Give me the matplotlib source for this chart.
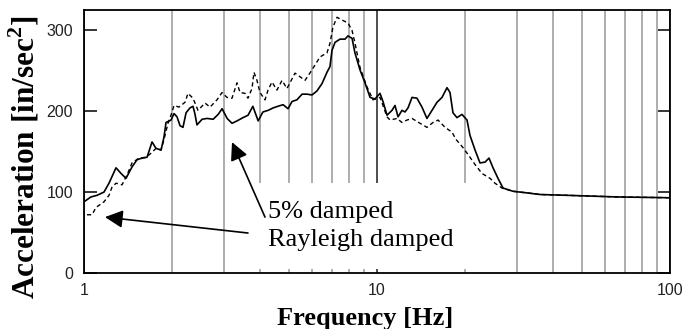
import numpy as np
import matplotlib
matplotlib.use('Agg')
import matplotlib.pyplot as plt
from matplotlib.ticker import LogLocator, NullFormatter, FixedLocator

# 5% damped (solid)
freq_5pct = [1.00, 1.056, 1.108, 1.170, 1.217, 1.286, 1.338, 1.391, 1.458, 1.517,
             1.578, 1.641, 1.707, 1.761, 1.832, 1.875, 1.905, 1.981, 2.029, 2.077,
             2.127, 2.177, 2.23, 2.30, 2.355, 2.39, 2.43, 2.53, 2.63, 2.76,
             2.87, 2.96, 3.08, 3.20, 3.33, 3.49, 3.63, 3.77, 3.93, 4.08,
             4.25, 4.42, 4.59, 4.78, 4.97, 5.13, 5.33, 5.55, 5.77, 6.00,
             6.24, 6.49, 6.75, 6.91, 7.02, 7.19, 7.48, 7.78, 7.96, 8.22,
             8.41, 8.75, 9.10, 9.47, 9.84, 10.24, 10.48, 10.82, 11.25, 11.52,
             11.80, 12.17, 12.46, 12.76, 13.17, 13.69, 14.24, 14.81, 15.41, 16.03,
             16.67, 17.34, 17.75, 18.17, 18.75, 19.50, 20.29, 20.77, 21.61, 22.47,
             23.37, 24.12, 24.89, 25.88, 26.92, 29.12, 32.51, 36.00, 44.51, 65.93,
             100.0]
acc_5pct = [88, 94, 96, 100, 111, 130, 123, 117, 131, 140,
            142, 143, 162, 154, 152, 168, 186, 189, 197, 193,
            182, 180, 198, 204, 206, 197, 183, 190, 191, 190,
            196, 203, 191, 185, 188, 192, 195, 206, 188, 199,
            201, 204, 206, 208, 203, 212, 214, 221, 221, 220,
            225, 234, 248, 255, 275, 285, 289, 289, 293, 290,
            272, 251, 235, 217, 215, 222, 212, 195, 201, 207,
            193, 201, 199, 204, 217, 216, 205, 191, 201, 211,
            217, 229, 223, 198, 192, 196, 189, 170, 152, 136,
            137, 142, 130, 117, 105, 101, 99, 97, 96, 94,
            93]

# Rayleigh damped (dashed)
freq_ray = [1.024, 1.065, 1.099, 1.170, 1.217, 1.246, 1.286, 1.348, 1.402, 1.458,
            1.541, 1.628, 1.693, 1.761, 1.832, 1.875, 1.935, 1.981, 2.029, 2.110,
            2.212, 2.264, 2.355, 2.449, 2.588, 2.692, 2.844, 2.958, 3.076, 3.200,
            3.328, 3.408, 3.544, 3.628, 3.744, 3.803, 3.894, 3.987, 4.147, 4.246,
            4.381, 4.556, 4.739, 4.929, 5.250, 5.679, 5.999, 6.390, 6.751, 6.912,
            7.076, 7.302, 7.655, 7.962, 8.215, 8.412, 8.750, 9.245, 9.690, 10.24,
            10.48, 10.82, 11.08, 11.70, 12.17, 12.66, 13.17, 14.02, 14.81, 15.53,
            16.16, 17.07, 18.03, 18.61, 19.66, 20.77, 21.61, 22.83, 24.31, 25.27,
            26.71, 29.12, 32.51, 36.00, 44.51, 65.93, 100.0]
acc_ray = [72, 72, 81, 88, 96, 106, 111, 109, 121, 136,
           142, 143, 148, 154, 152, 165, 185, 195, 207, 205,
           211, 222, 216, 201, 210, 205, 214, 223, 217, 216,
           235, 223, 222, 216, 228, 248, 238, 223, 214, 226,
           236, 226, 238, 228, 247, 238, 251, 267, 272, 284,
           304, 316, 312, 309, 300, 284, 254, 230, 214, 217,
           207, 193, 189, 191, 186, 189, 191, 185, 180, 186,
           189, 180, 174, 165, 155, 143, 134, 123, 117, 111,
           105, 101, 99, 97, 96, 94, 93]

yticks = [0, 100, 200, 300]
serif = ['Liberation Serif', 'DejaVu Serif']
sans = ['Liberation Sans', 'DejaVu Sans']

fig = plt.figure(figsize=(6.88, 3.29), dpi=100)
ax = fig.add_axes([0.1221, 0.1702, 0.8517, 0.7994])

ax.plot(freq_5pct, acc_5pct, color='black', linewidth=1.2, zorder=3)
ax.plot(freq_ray, acc_ray, color='black', linewidth=1.0, linestyle=(0, (3, 2.2)), zorder=3)

ax.set_xscale('log')
ax.set_xlim(1, 100)
ax.set_ylim(0, 325)

ax.xaxis.set_major_locator(FixedLocator([1, 10, 100]))
ax.xaxis.set_major_formatter(matplotlib.ticker.FixedFormatter(['1', '10', '100']))
ax.xaxis.set_minor_locator(LogLocator(base=10, subs=np.arange(2, 10)))
ax.xaxis.set_minor_formatter(NullFormatter())
ax.grid(which='minor', axis='x', color='#a0a0a0', linewidth=1.2, zorder=1)
ax.grid(which='major', axis='x', color='#303030', linewidth=1.2, zorder=1)
ax.tick_params(axis='x', which='both', length=0, pad=7)

ax.set_yticks(yticks)
ax.tick_params(axis='y', direction='in', length=9, width=1.1, right=True, pad=8)
for lab in ax.get_xticklabels() + ax.get_yticklabels():
    lab.set_family(sans)
    lab.set_fontsize(11.5)
    lab.set_color('#222222')

for sp in ax.spines.values():
    sp.set_linewidth(1.3)
    sp.set_zorder(4)

ax.set_xlabel('Frequency [Hz]', family=serif, fontweight='bold', fontsize=19)
ax.set_ylabel('Acceleration [in/sec$^\\mathregular{2}$]', family=serif, fontweight='bold', fontsize=22.5)
ax.xaxis.set_label_coords(0.48, -0.128)
ax.yaxis.set_label_coords(-0.073, 0.44)

ax.text(4.25, 33, '5% damped\nRayleigh damped', family=serif, fontsize=19,
        ha='left', va='baseline', linespacing=1.36, zorder=5,
        bbox=dict(boxstyle='square,pad=0.68', facecolor='white', edgecolor='none'))

arrow = dict(arrowstyle='-|>,head_length=0.6,head_width=0.3', mutation_scale=18,
             color='black', lw=1.2, shrinkA=0, shrinkB=0)
ax.annotate('', xy=(3.20, 161.7), xytext=(4.147, 69.1), arrowprops=arrow, zorder=6)
ax.annotate('', xy=(1.179, 69.1), xytext=(3.628, 49.4), arrowprops=arrow, zorder=6)

fig.savefig('out.png', dpi=100)
